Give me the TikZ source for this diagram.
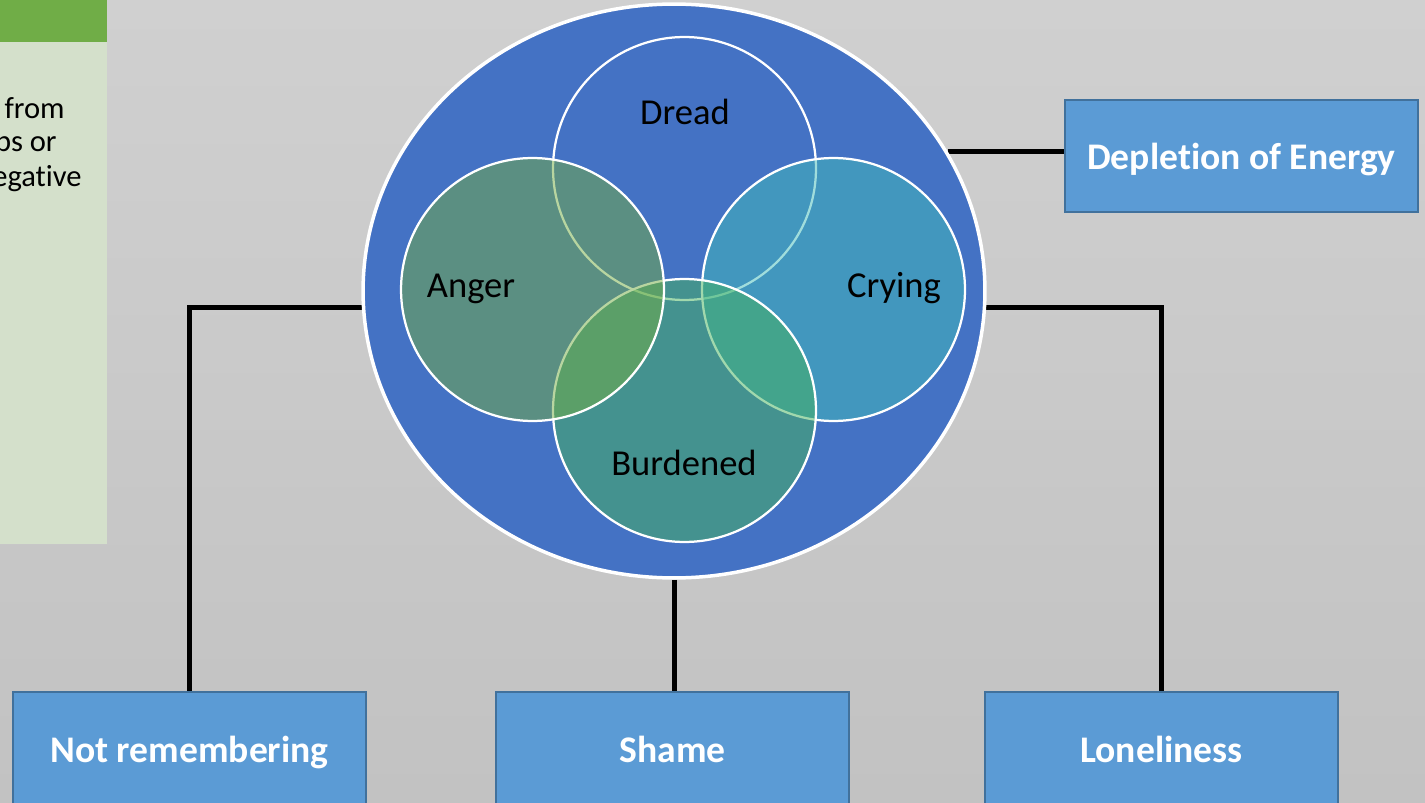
\documentclass[tikz,border=0pt]{standalone}
\usepackage{fontspec}
\setmainfont{Carlito}[Ligatures = {NoCommon}]
\usetikzlibrary{shapes.geometric,backgrounds}

\definecolor{bgtop}{HTML}{D0D0D0}
\definecolor{bgbot}{HTML}{C2C2C2}
\definecolor{panelhead}{HTML}{70AD47}
\definecolor{panelbody}{HTML}{D4E0CB}
\definecolor{outerblue}{HTML}{4472C4}
\definecolor{dreadcol}{HTML}{4472C4}
\definecolor{cryingcol}{HTML}{42BCBA}
\definecolor{burdencol}{HTML}{44B25C}
\definecolor{angercol}{HTML}{72AC42}
\definecolor{boxfill}{HTML}{5B9BD5}
\definecolor{boxline}{HTML}{41719C}

\begin{document}
\begin{tikzpicture} [x = 0.02cm, y = 0.02cm, font = \fontsize{20.8}{24}\selectfont,
  feel/.style = {circle, draw = white, line width = 0.045cm, minimum size = 5.26cm, inner sep = 0pt, fill opacity = 0.5},
  word/.style = {anchor = base, inner sep = 0pt},
  topic/.style = {rectangle, draw = boxline, line width = 0.04cm, fill = boxfill, minimum width = 7.06cm, minimum height = 2.24cm,
    text = white, font = \fontsize{21.4}{24}\selectfont\bfseries, text height = 0.56cm, text depth = 0cm},
  wire/.style = {line width = 0.1cm}]

\useasboundingbox (0,0) rectangle (1425,802);
\begin{scope}[on background layer]
\shade [top color = bgtop, bottom color = bgbot] (0,0) rectangle (1425,802);
\end{scope}

% side panel, cut at the left edge
\fill [panelbody] (0,258) rectangle (107,760);
\fill [panelhead] (0,760) rectangle (107,802);
\node [anchor = base east, inner sep = 0pt, font = \fontsize{17.4}{20}\selectfont] (side1) at (65,683) {from};
\node [anchor = base east, inner sep = 0pt, font = \fontsize{17.4}{20}\selectfont] (side2) at (57,650) {ps or};
\node [anchor = base east, inner sep = 0pt, font = \fontsize{17.4}{20}\selectfont] (side3) at (82,615) {egative};

% big ellipse and venn
\node [ellipse, draw = white, line width = 0.07cm, fill = outerblue, minimum width = 12.44cm, minimum height = 11.48cm, inner sep = 0pt] (emo) at (674,511) {};

\node [feel, fill = dreadcol] (dread) at (684.5,633.5) {};
\node [feel, fill = cryingcol] (crying) at (833.5,512.5) {};
\node [feel, fill = burdencol] (burden) at (684.5,391.5) {};
\node [feel, fill = angercol] (anger) at (532.5,512.5) {};

\node [word] (dreadtxt) at (685,677) {Dread};
\node [word] (angertxt) at (471,504) {Anger};
\node [word] (cryingtxt) at (894,504) {Crying};
\node [word] (burdentxt) at (684,327) {Burdened};

% outcome boxes
\node [topic] (dep) at (1241.5,646) {Depletion of Energy};
\node [topic] (notrem) at (189.5,54) {Not remembering};
\node [topic] (shame) at (672.5,54) {Shame};
\node [topic] (lone) at (1161.5,54) {Loneliness};

\begin{scope}[on background layer]
\draw [wire] (emo.27.7) -- (emo.27.7 -| dep.west);
\draw [wire] (emo.183.3) -| (notrem.north);
\draw [wire] (emo.357.4) -| (lone.north);
\draw [wire] (emo.south) -- (emo.south |- shame.north);
\end{scope}

\end{tikzpicture}
\end{document}
